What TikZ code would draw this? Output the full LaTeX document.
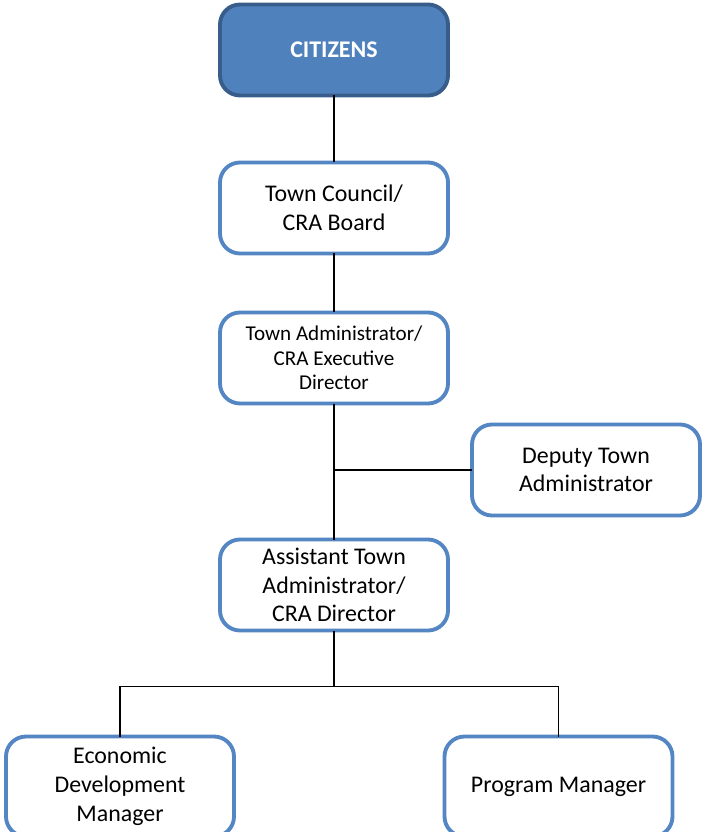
\documentclass[tikz,border=0pt]{standalone}
\usepackage{fontspec}
\setmainfont{Carlito}
\usepackage{xcolor}
\usepackage{tikz}
\usetikzlibrary{positioning, calc}

\definecolor{citizenfill}{RGB}{79,129,189}
\definecolor{citizenedge}{RGB}{56,93,138}
\definecolor{boxedge}{RGB}{84,134,196}

\begin{document}
\begin{tikzpicture}[
        box/.style={rectangle, rounded corners=0.4cm, draw=boxedge, line width=2.2pt, outer sep=0pt, fill=white, minimum width=4.56cm, minimum height=1.82cm, align=center, font=\fontsize{13.6}{16.4}\selectfont},
        topbox/.style={box, draw=citizenedge, fill=citizenfill, text=white, font=\fontsize{13.6}{16.4}\selectfont\bfseries},
        smallbox/.style={box, font=\fontsize{12}{13.9}\selectfont},
        lowbox/.style={box, minimum height=2.0cm},
        line/.style={line width=1.1pt, black}
    ]

    \useasboundingbox (0,0) rectangle (14.02,-16.64);

    \node[topbox] (citizens) at (6.68,-1.0) {CITIZENS};
    \node[box, below=1.34cm of citizens] (council) {Town Council/\\CRA Board};
    \node[smallbox, below=1.18cm of council] (admin) {Town Administrator/\\CRA Executive\\Director};
    \node[box, right=0.48cm of admin, yshift=-2.24cm] (deputy) {Deputy Town\\Administrator};
    \node[box, below=2.72cm of admin] (assistant) {Assistant Town\\Administrator/\\CRA Director};
    \node[lowbox, below=2.12cm of assistant, xshift=-4.28cm] (econ) {Economic\\Development\\Manager};
    \node[lowbox, below=2.12cm of assistant, xshift=4.49cm] (program) {Program Manager};
    \coordinate[below=1.12cm of assistant] (split);

    \draw[line] (citizens) -- (council);
    \draw[line] (council) -- (admin);
    \draw[line] (admin) -- (assistant);
    \draw[line] (deputy) -- (deputy -| admin);
    \draw[line] (assistant) -- (split);
    \draw[line] (econ) |- (split) -| (program);

\end{tikzpicture}
\end{document}
